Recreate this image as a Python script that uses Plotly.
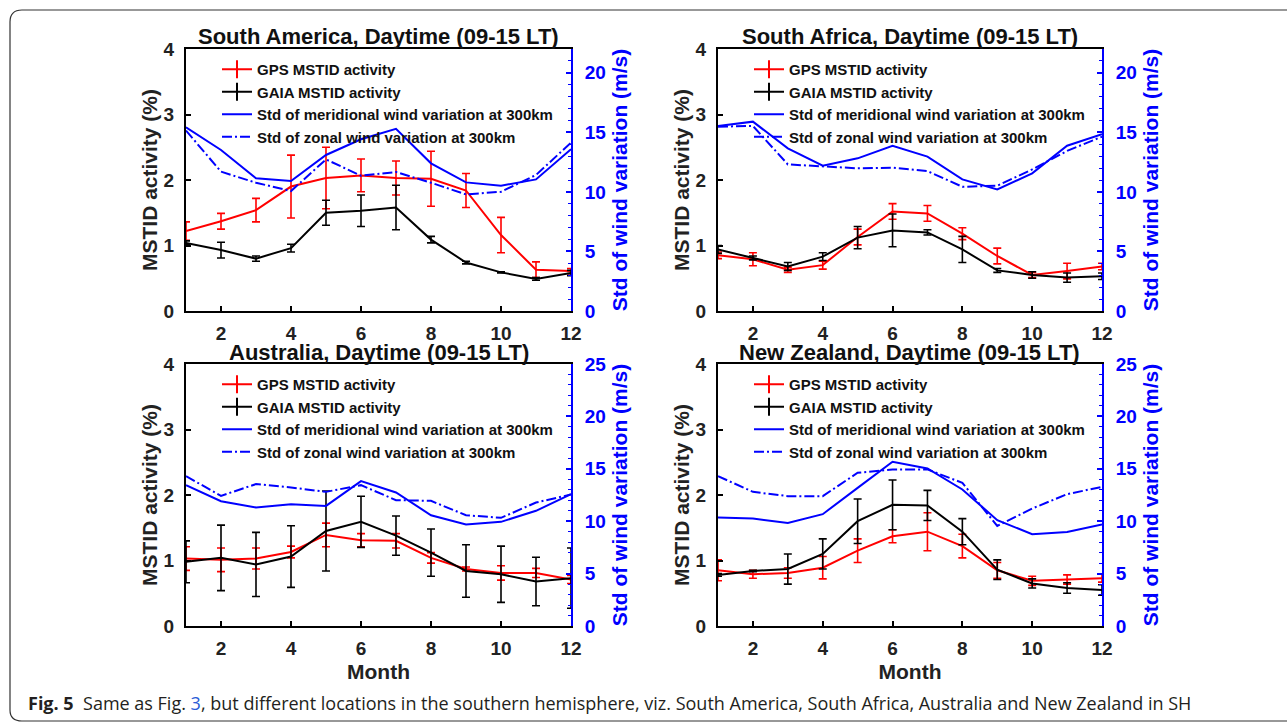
import plotly.graph_objects as go

W, H = 1287, 722

months = list(range(1, 13))

titles = ["South America, Daytime (09-15 LT)", "South Africa, Daytime (09-15 LT)",
          "Australia, Daytime (09-15 LT)", "New Zealand, Daytime (09-15 LT)"]

# South America
sa_gps = [1.22, 1.37, 1.54, 1.90, 2.03, 2.07, 2.03, 2.02, 1.84, 1.16, 0.63, 0.61]
sa_gps_err = [0.14, 0.12, 0.18, 0.48, 0.47, 0.25, 0.26, 0.42, 0.26, 0.27, 0.12, 0.04]
sa_gaia = [1.04, 0.93, 0.80, 0.96, 1.50, 1.53, 1.58, 1.09, 0.74, 0.59, 0.49, 0.58]
sa_gaia_err = [0.03, 0.12, 0.04, 0.06, 0.19, 0.24, 0.34, 0.05, 0.02, 0.01, 0.02, 0.04]
sa_mer = [15.43, 13.52, 11.14, 10.91, 13.10, 14.42, 15.29, 12.40, 10.80, 10.52, 11.05, 13.58]
sa_zon = [15.15, 11.70, 10.77, 10.07, 12.73, 11.36, 11.67, 10.77, 9.79, 10.01, 11.42, 14.14]

# South Africa
af_gps = [0.85, 0.79, 0.63, 0.70, 1.13, 1.52, 1.49, 1.18, 0.84, 0.55, 0.61, 0.68]
af_gps_err = [0.05, 0.10, 0.04, 0.06, 0.12, 0.12, 0.12, 0.09, 0.12, 0.04, 0.12, 0.05]
af_gaia = [0.94, 0.81, 0.68, 0.83, 1.12, 1.23, 1.20, 0.94, 0.62, 0.55, 0.51, 0.53]
af_gaia_err = [0.06, 0.03, 0.06, 0.06, 0.17, 0.25, 0.04, 0.20, 0.03, 0.05, 0.07, 0.05]
af_mer = [15.54, 15.90, 13.66, 12.20, 12.82, 13.88, 12.96, 11.05, 10.21, 11.56, 13.88, 14.84]
af_zon = [15.48, 15.54, 12.31, 12.12, 11.98, 12.03, 11.75, 10.43, 10.52, 11.89, 13.44, 14.64]

# Australia
au_gps = [1.03, 1.01, 1.03, 1.13, 1.39, 1.31, 1.30, 1.04, 0.87, 0.81, 0.81, 0.71]
au_gps_err = [0.18, 0.18, 0.16, 0.09, 0.18, 0.10, 0.11, 0.08, 0.03, 0.11, 0.07, 0.06]
au_gaia = [0.98, 1.04, 0.94, 1.06, 1.45, 1.59, 1.38, 1.12, 0.84, 0.79, 0.68, 0.73]
au_gaia_err = [0.32, 0.50, 0.49, 0.47, 0.61, 0.39, 0.30, 0.36, 0.40, 0.43, 0.37, 0.46]
au_mer = [13.44, 11.91, 11.31, 11.62, 11.46, 13.82, 12.74, 10.57, 9.68, 9.94, 10.99, 12.58]
au_zon = [14.30, 12.42, 13.54, 13.22, 12.80, 13.44, 12.01, 11.94, 10.57, 10.32, 11.78, 12.55]

# New Zealand
nz_gps = [0.85, 0.79, 0.81, 0.89, 1.15, 1.37, 1.44, 1.22, 0.85, 0.69, 0.71, 0.73]
nz_gps_err = [0.16, 0.06, 0.08, 0.17, 0.18, 0.10, 0.29, 0.18, 0.12, 0.07, 0.07, 0.06]
nz_gaia = [0.78, 0.84, 0.87, 1.10, 1.60, 1.85, 1.84, 1.44, 0.86, 0.65, 0.58, 0.55]
nz_gaia_err = [0.02, 0.01, 0.23, 0.23, 0.34, 0.38, 0.23, 0.20, 0.15, 0.07, 0.08, 0.08]
nz_mer = [10.35, 10.25, 9.84, 10.67, 13.18, 15.67, 15.03, 13.03, 10.10, 8.76, 8.98, 9.68]
nz_zon = [14.30, 12.80, 12.39, 12.39, 14.62, 14.94, 14.94, 13.66, 9.55, 11.21, 12.58, 13.28]

wind_max = [22, 22, 25, 25]

legend_names = ["GPS MSTID activity", "GAIA MSTID activity",
                "Std of meridional wind variation at 300km",
                "Std of zonal wind variation at 300km"]

caption = ("<b>Fig. 5</b>  Same as Fig. <span style='color:#2b5bd7'>3</span>, but different locations "
           "in the southern hemisphere, viz. South America, South Africa, Australia and New Zealand in SH")

panels = [
    (sa_gps, sa_gps_err, sa_gaia, sa_gaia_err, sa_mer, sa_zon),
    (af_gps, af_gps_err, af_gaia, af_gaia_err, af_mer, af_zon),
    (au_gps, au_gps_err, au_gaia, au_gaia_err, au_mer, au_zon),
    (nz_gps, nz_gps_err, nz_gaia, nz_gaia_err, nz_mer, nz_zon),
]

FONT = "Liberation Sans"
RED, BLACK, BLUE = "#ff0000", "#000000", "#0000ff"
DASHDOT = "10px,3px,2px,3px"

def px_x(x):
    return x / W

def px_y(y):
    return 1 - y / H

# plot boxes in pixels: (left, right, top, bottom)
boxes = [(186, 571, 49, 311), (718, 1102, 49, 311),
         (186, 571, 364, 626), (718, 1102, 364, 626)]

fig = go.Figure()
layout = dict(width=W, height=H, margin=dict(l=0, r=0, t=0, b=0, autoexpand=False),
              paper_bgcolor="white", plot_bgcolor="white",
              font=dict(family=FONT, color="black"), annotations=[], shapes=[])

for i, (gps, gps_e, gaia, gaia_e, mer, zon) in enumerate(panels):
    n = i + 1
    xa = "x" if n == 1 else f"x{n}"
    ya = "y" if n == 1 else f"y{n}"
    yr_n = n + 4
    yr = f"y{yr_n}"
    lg = "legend" if n == 1 else f"legend{n}"

    fig.add_trace(go.Scatter(x=[None], y=[None], name=legend_names[0], mode="lines+markers",
                             line=dict(color=RED, width=2),
                             marker=dict(symbol="line-ns-open", size=13, line=dict(color=RED, width=2)),
                             xaxis=xa, yaxis=ya, legend=lg))
    fig.add_trace(go.Scatter(x=[None], y=[None], name=legend_names[1], mode="lines+markers",
                             line=dict(color=BLACK, width=2),
                             marker=dict(symbol="line-ns-open", size=13, line=dict(color=BLACK, width=2)),
                             xaxis=xa, yaxis=ya, legend=lg))
    fig.add_trace(go.Scatter(x=[None], y=[None], name=legend_names[2], mode="lines",
                             line=dict(color=BLUE, width=2), xaxis=xa, yaxis=yr, legend=lg))
    fig.add_trace(go.Scatter(x=[None], y=[None], name=legend_names[3], mode="lines",
                             line=dict(color=BLUE, width=2, dash=DASHDOT), xaxis=xa, yaxis=yr, legend=lg))

    fig.add_trace(go.Scatter(x=months, y=mer, mode="lines", line=dict(color=BLUE, width=2),
                             xaxis=xa, yaxis=yr, showlegend=False))
    fig.add_trace(go.Scatter(x=months, y=zon, mode="lines", line=dict(color=BLUE, width=2, dash=DASHDOT),
                             xaxis=xa, yaxis=yr, showlegend=False))
    fig.add_trace(go.Scatter(x=months, y=gps, mode="lines", line=dict(color=RED, width=2),
                             error_y=dict(type="data", array=gps_e, color=RED, thickness=1.6, width=4),
                             xaxis=xa, yaxis=ya, showlegend=False))
    fig.add_trace(go.Scatter(x=months, y=gaia, mode="lines", line=dict(color=BLACK, width=2),
                             error_y=dict(type="data", array=gaia_e, color=BLACK, thickness=1.6, width=4),
                             xaxis=xa, yaxis=ya, showlegend=False))

    L, R, T, B = boxes[i]
    xdom = [px_x(L), px_x(R)]
    ydom = [px_y(B), px_y(T)]
    bottom_row = i >= 2

    layout[f"xaxis{'' if n == 1 else n}"] = dict(
        domain=xdom, anchor=ya, range=[1, 12], tickvals=[2, 4, 6, 8, 10, 12], automargin=False,
        ticks="inside", ticklen=5, tickwidth=1.5, tickcolor="black",
        showline=True, linecolor="black", linewidth=2, mirror=True, showgrid=False, zeroline=False,
        tickfont=dict(family=FONT, size=19, weight="bold", color="#222"), ticklabelstandoff=4,
        title=dict(text="Month" if bottom_row else "", font=dict(family=FONT, size=21, weight="bold", color="#222"),
                   standoff=7),
    )
    layout[f"yaxis{'' if n == 1 else n}"] = dict(
        domain=ydom, anchor=xa, range=[0, 4], dtick=1, automargin=False,
        ticks="inside", ticklen=5, tickwidth=1.5, tickcolor="black",
        showline=True, linecolor="black", linewidth=2, showgrid=False, zeroline=False,
        tickfont=dict(family=FONT, size=19, weight="bold", color="#222"), ticklabelstandoff=6,
        title=dict(text="MSTID activity (%)", font=dict(family=FONT, size=21, weight="bold", color="#222"),
                   standoff=0),
    )
    layout[f"yaxis{yr_n}"] = dict(
        overlaying=ya, anchor=xa, side="right", range=[0, wind_max[i]], dtick=5, automargin=False,
        ticks="inside", ticklen=5, tickwidth=1.5, tickcolor=BLUE,
        minor=dict(ticks="inside", dtick=1, ticklen=3, tickcolor=BLUE, tickwidth=1),
        showline=True, linecolor=BLUE, linewidth=2, showgrid=False, zeroline=False,
        tickfont=dict(family=FONT, size=19, weight="bold", color=BLUE), ticklabelstandoff=8,
        title=dict(text="Std of wind variation (m/s)", font=dict(family=FONT, size=21, weight="bold", color=BLUE),
                   standoff=7),
    )
    layout[lg] = dict(x=px_x(L + 31), y=px_y(T + 4), xanchor="left", yanchor="top",
                      bgcolor="rgba(0,0,0,0)", borderwidth=0, itemwidth=30,
                      font=dict(family=FONT, size=15, weight="bold", color="#111"),
                      tracegroupgap=0, itemclick=False, itemdoubleclick=False)
    layout["annotations"].append(dict(
        text=titles[i], x=(xdom[0] + xdom[1]) / 2, y=px_y(T - 12), xref="paper", yref="paper",
        xanchor="center", yanchor="middle", showarrow=False,
        font=dict(family=FONT, size=22, weight="bold", color="#111")))

layout["annotations"].append(dict(
    text=caption, x=px_x(26), y=px_y(703), xref="paper", yref="paper", xanchor="left", yanchor="middle",
    showarrow=False, font=dict(family="Open Sans", size=18, color="#231f20")))

frame = (f"M {px_x(1287)},{px_y(10)} L {px_x(22)},{px_y(10)} Q {px_x(10)},{px_y(10)} {px_x(10)},{px_y(22)} "
         f"L {px_x(10)},{px_y(710)} Q {px_x(10)},{px_y(721)} {px_x(22)},{px_y(721)} L {px_x(1287)},{px_y(721)}")
layout["shapes"].append(dict(type="path", path=frame, xref="paper", yref="paper",
                             line=dict(color="#333", width=1.2)))

fig.update_layout(**layout)
fig.write_html("out.html")
